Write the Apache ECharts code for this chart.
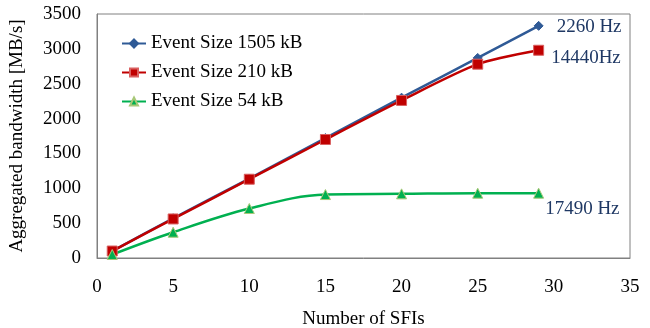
<!DOCTYPE html>
<html><head><meta charset="utf-8">
<script src="https://cdn.jsdelivr.net/npm/echarts@6/dist/echarts.min.js"></script>
<style>html,body{margin:0;padding:0;background:#fff}#c{width:650px;height:328px}</style>
</head><body><div id="c"></div>
<script>
const sfis = [1, 5, 10, 15, 20, 25, 29];
const size1505 = [100, 570, 1140, 1720, 2300, 2870, 3330];
const size210 = [100, 560, 1130, 1700, 2260, 2780, 2980];
const size54 = [50, 370, 710, 910, 920, 930, 930];
const seriesNames = ['Event Size 1505 kB', 'Event Size 210 kB', 'Event Size 54 kB'];
const endLabels = ['2260 Hz', '14440Hz', '17490 Hz'];

const font = 'Liberation Serif, Times New Roman, serif';
const FS = 19;
const chart = echarts.init(document.getElementById('c'), null, {renderer: 'canvas'});
function pairs(v){ return sfis.map((x,i)=>[x, v[i]]); }
function mkSeries(name, vals, color, symbol, symbolSize, label, offset, smooth, borderColor){
  const data = pairs(vals).map((p,i)=>{
    const d = {value: p};
    if (i === vals.length-1) {
      d.label = {show: true, position: 'right', formatter: label, offset: offset,
        color: '#1F3864', fontFamily: font, fontSize: FS};
    }
    return d;
  });
  return {
    name, type: 'line', data, smooth, symbol, symbolSize,
    lineStyle: {color, width: 2.5},
    itemStyle: {color, borderColor: borderColor || color, borderWidth: 1},
    label: {show: false}, z: 3
  };
}
chart.setOption({
  animation: false,
  grid: {left: 97, right: 20, top: 14, bottom: 70, show: true, borderColor: '#808080', borderWidth: 1,
    outerBoundsMode: 'none', containLabel: false},
  legend: {
    orient: 'vertical', left: 116, top: 29, itemGap: 10, itemWidth: 24, itemHeight: 10,
    textStyle: {fontFamily: font, fontSize: FS, color: '#000'},
    data: seriesNames
  },
  xAxis: {
    type: 'value', min: 0, max: 35, interval: 5,
    name: 'Number of SFIs', nameLocation: 'middle', nameGap: 52,
    nameTextStyle: {fontFamily: font, fontSize: FS, color: '#000'},
    axisLine: {show: true, lineStyle: {color: '#808080'}},
    axisTick: {show: false}, splitLine: {show: false},
    axisLabel: {fontFamily: font, fontSize: FS, color: '#000', margin: 20, formatter: v => String(v)}
  },
  yAxis: {
    type: 'value', min: 0, max: 3500, interval: 500,
    name: 'Aggregated bandwidth [MB/s]', nameLocation: 'middle', nameGap: 70,
    nameTextStyle: {fontFamily: font, fontSize: FS, color: '#000'},
    axisLine: {show: true, lineStyle: {color: '#808080'}},
    axisTick: {show: false}, splitLine: {show: false},
    axisLabel: {fontFamily: font, fontSize: FS, color: '#000', margin: 16, formatter: v => String(v)}
  },
  series: [
    mkSeries(seriesNames[0], size1505, '#2F5A96', 'diamond', 9, endLabels[0], [8, 1], 0.2),
    mkSeries(seriesNames[1], size210, '#C00000', 'rect', 10, endLabels[1], [2, 8], 0.25, '#D96060'),
    mkSeries(seriesNames[2], size54, '#00B050', 'triangle', 10, endLabels[2], [-4, 16], 0.35, '#A8C878')
  ]
});
</script></body></html>
